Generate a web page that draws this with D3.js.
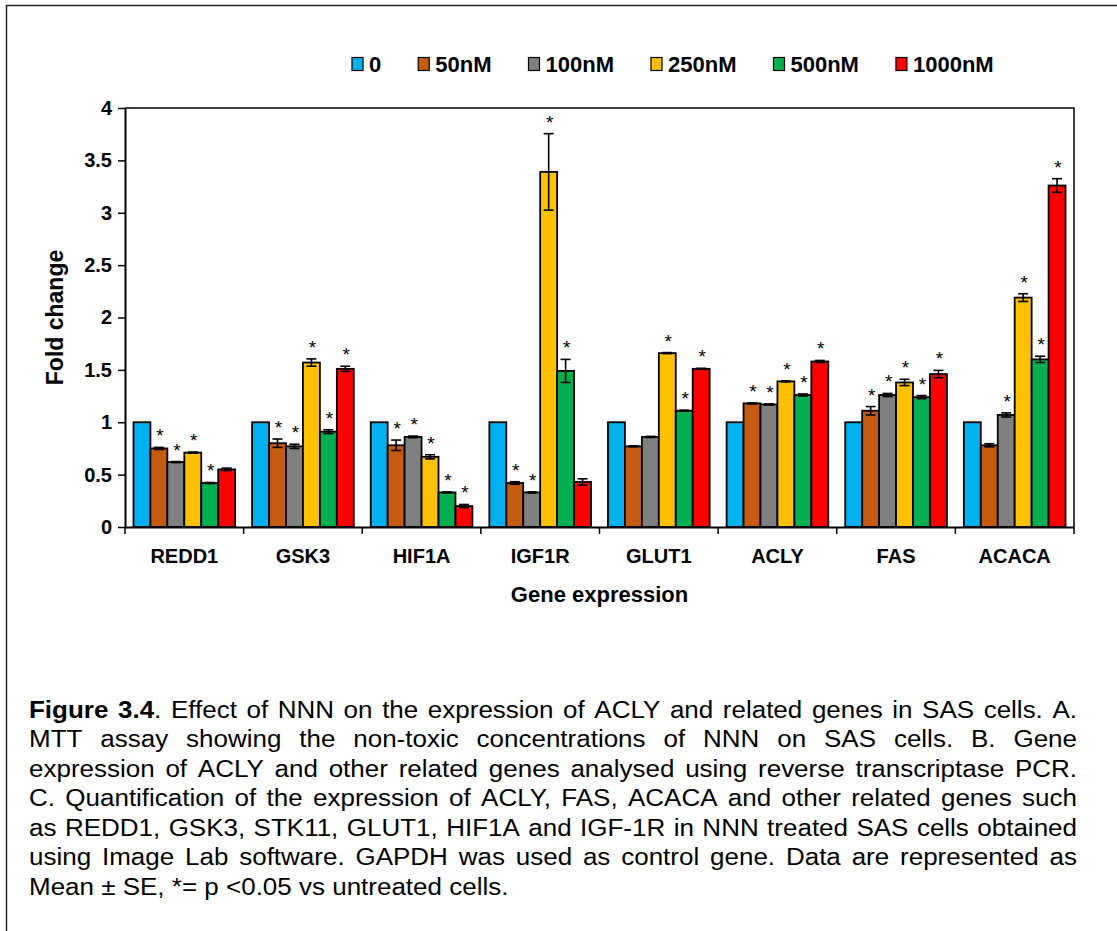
<!DOCTYPE html>
<meta charset="utf-8">
<style>
body { margin: 0; background: #fff; }
text { font-family: "Liberation Sans", Arial, sans-serif; }
</style>
<svg width="1117" height="931"></svg>
<script src="https://d3js.org/d3.v7.min.js"></script>
<script>

var genes = ["REDD1", "GSK3", "HIF1A", "IGF1R", "GLUT1", "ACLY", "FAS", "ACACA"];
var doses = ["0", "50nM", "100nM", "250nM", "500nM", "1000nM"];
var colors = ["#00b0f0", "#c55a11", "#808080", "#ffc000", "#00b050", "#ff0000"];

// fold change per dose, one value per gene
var v0    = [1, 1, 1, 1, 1, 1, 1, 1];
var v50   = [0.75, 0.80, 0.78, 0.42, 0.77, 1.18, 1.11, 0.78];
var v100  = [0.62, 0.77, 0.86, 0.33, 0.86, 1.17, 1.26, 1.07];
var v250  = [0.71, 1.57, 0.67, 3.39, 1.66, 1.39, 1.38, 2.19];
var v500  = [0.42, 0.91, 0.33, 1.49, 1.11, 1.26, 1.24, 1.60];
var v1000 = [0.55, 1.51, 0.20, 0.43, 1.51, 1.58, 1.46, 3.26];

// standard error
var e0    = [0, 0, 0, 0, 0, 0, 0, 0];
var e50   = [0.01, 0.04, 0.05, 0.012, 0.005, 0.005, 0.04, 0.015];
var e100  = [0.005, 0.02, 0.008, 0.005, 0.005, 0.005, 0.015, 0.02];
var e250  = [0.005, 0.035, 0.02, 0.365, 0.005, 0.005, 0.03, 0.037];
var e500  = [0.005, 0.018, 0.005, 0.11, 0.005, 0.01, 0.015, 0.03];
var e1000 = [0.012, 0.025, 0.015, 0.03, 0.005, 0.01, 0.035, 0.065];

// significance (*) markers
var s0    = [0, 0, 0, 0, 0, 0, 0, 0];
var s50   = [1, 1, 1, 1, 0, 1, 1, 0];
var s100  = [1, 1, 1, 1, 0, 1, 1, 1];
var s250  = [1, 1, 1, 1, 1, 1, 1, 1];
var s500  = [1, 1, 1, 1, 1, 1, 1, 1];
var s1000 = [0, 1, 1, 0, 1, 1, 1, 1];

var yTicks = [0, 0.5, 1, 1.5, 2, 2.5, 3, 3.5, 4];

var captionLines = [
  "**Figure 3.4**. Effect of NNN on the expression of ACLY and related genes in SAS cells. A.",
  "MTT assay showing the non-toxic concentrations of NNN on SAS cells. B. Gene",
  "expression of ACLY and other related genes analysed using reverse transcriptase PCR.",
  "C. Quantification of the expression of ACLY, FAS, ACACA and other related genes such",
  "as REDD1, GSK3, STK11, GLUT1, HIF1A and IGF-1R in NNN treated SAS cells obtained",
  "using Image Lab software. GAPDH was used as control gene. Data are represented as",
  "Mean \u00b1 SE, *= p <0.05 vs untreated cells."
];

var values = [v0, v50, v100, v250, v500, v1000],
    errors = [e0, e50, e100, e250, e500, e1000],
    stars  = [s0, s50, s100, s250, s500, s1000];

var data = [];
genes.forEach(function(g, gi) {
  doses.forEach(function(d, di) {
    data.push({gene: g, dose: d, i: di, v: values[di][gi], e: errors[di][gi], s: stars[di][gi]});
  });
});

var svg = d3.select("svg"),
    plotL = 125, plotR = 1074, plotT = 108, plotB = 527;

// outer figure frame
svg.append("rect")
    .attr("x", 6.5).attr("y", 5.5)
    .attr("width", 1300).attr("height", 1100)
    .attr("fill", "none").attr("stroke", "#222").attr("stroke-width", 1.5);

var x0 = d3.scaleBand().domain(genes).range([plotL, plotR]);
var x1 = d3.scaleBand().domain(doses).range([0, x0.bandwidth()]).paddingOuter(0.5);
var y = d3.scaleLinear().domain([0, 4]).range([plotB, plotT]);
var z = d3.scaleOrdinal().domain(doses).range(colors);

// plot area border (top and right)
svg.append("path")
    .attr("d", "M" + plotL + "," + plotT + "H" + plotR + "V" + plotB)
    .attr("fill", "none").attr("stroke", "#000").attr("stroke-width", 1.5);

var bars = svg.append("g").selectAll("g")
  .data(data)
  .enter().append("g")
    .attr("transform", function(d) { return "translate(" + (x0(d.gene) + x1(d.dose)) + ",0)"; });

bars.append("rect")
    .attr("y", function(d) { return y(d.v); })
    .attr("width", x1.bandwidth())
    .attr("height", function(d) { return y(0) - y(d.v); })
    .attr("fill", function(d) { return z(d.dose); })
    .attr("stroke", "#000")
    .attr("stroke-width", 1.8);

var bw = x1.bandwidth(), cx = bw / 2;
var err = bars.filter(function(d) { return d.e > 0; }).append("g")
    .attr("stroke", "#000").attr("stroke-width", 1.6);
err.append("line")
    .attr("x1", cx).attr("x2", cx)
    .attr("y1", function(d) { return y(d.v - d.e); })
    .attr("y2", function(d) { return y(d.v + d.e); });
err.append("line")
    .attr("x1", cx - 5).attr("x2", cx + 5)
    .attr("y1", function(d) { return y(d.v + d.e); })
    .attr("y2", function(d) { return y(d.v + d.e); });
err.append("line")
    .attr("x1", cx - 5).attr("x2", cx + 5)
    .attr("y1", function(d) { return y(d.v - d.e); })
    .attr("y2", function(d) { return y(d.v - d.e); });

bars.filter(function(d) { return d.s; }).append("text")
    .attr("x", cx + 1)
    .attr("y", function(d) { return y(d.v + d.e) - 5; })
    .attr("text-anchor", "middle")
    .attr("font-size", 19)
    .text("*");

// y axis
var yAxis = svg.append("g")
    .attr("transform", "translate(" + plotL + ",0)")
    .call(d3.axisLeft(y).tickValues(yTicks).tickSize(7).tickSizeOuter(0).tickPadding(6).tickFormat(d3.format("~g")));
yAxis.select(".domain").attr("stroke-width", 2);
yAxis.selectAll(".tick line").attr("stroke-width", 1.5);
yAxis.selectAll("text")
    .attr("font-family", "Liberation Sans, Arial, sans-serif")
    .attr("font-size", 20).attr("font-weight", "bold").attr("fill", "#000");

// x axis
var xAxis = svg.append("g")
    .attr("transform", "translate(0," + plotB + ")")
    .call(d3.axisBottom(x0).tickSize(0).tickSizeOuter(0).tickPadding(22));
xAxis.select(".domain").attr("stroke-width", 2);
xAxis.selectAll("text")
    .attr("font-family", "Liberation Sans, Arial, sans-serif")
    .attr("font-size", 20).attr("font-weight", "bold").attr("fill", "#000");
xAxis.selectAll(".sep")
  .data(genes.map(function(g) { return x0(g); }).concat([plotR]))
  .enter().append("line")
    .attr("class", "sep")
    .attr("x1", function(d) { return d; }).attr("x2", function(d) { return d; })
    .attr("y1", 0).attr("y2", 7)
    .attr("stroke", "#000").attr("stroke-width", 1.5);

svg.append("text")
    .attr("x", (plotL + plotR) / 2).attr("y", 602)
    .attr("text-anchor", "middle")
    .attr("font-size", 22).attr("font-weight", "bold")
    .text("Gene expression");

svg.append("text")
    .attr("transform", "translate(63," + ((plotT + plotB) / 2) + ") rotate(-90)")
    .attr("text-anchor", "middle")
    .attr("font-size", 23).attr("font-weight", "bold")
    .text("Fold change");

// legend
var lx = 352;
doses.forEach(function(d) {
  svg.append("rect")
      .attr("x", lx).attr("y", 57.5)
      .attr("width", 11).attr("height", 13)
      .attr("fill", z(d)).attr("stroke", "#000").attr("stroke-width", 1.2);
  var t = svg.append("text")
      .attr("x", lx + 17).attr("y", 72)
      .attr("font-size", 22).attr("font-weight", "bold")
      .text(d);
  lx += 17 + t.node().getComputedTextLength() + 37;
});

// caption, justified
var capLeft = 29, capRight = 1077, sx = 1.13,
    capW = (capRight - capLeft) / sx;
var cap = svg.append("g")
    .attr("transform", "translate(" + capLeft + ",0) scale(" + sx + ",1)")
    .attr("font-size", 23);
var bold = false;
captionLines.forEach(function(line, li) {
  var yb = 718 + li * 29.5;
  var words = line.split(" ").map(function(w) {
    var t = cap.append("text").attr("y", yb);
    w.split("**").forEach(function(part, pi) {
      if (pi > 0) bold = !bold;
      if (part) t.append("tspan").attr("font-weight", bold ? "bold" : null).text(part);
    });
    return t;
  });
  var widths = words.map(function(t) { return t.node().getComputedTextLength(); });
  var total = d3.sum(widths);
  var gap = li < captionLines.length - 1 ? (capW - total) / (words.length - 1) : 23 * 0.278;
  var x = 0;
  words.forEach(function(t, i) {
    t.attr("x", x);
    x += widths[i] + gap;
  });
});

</script>
